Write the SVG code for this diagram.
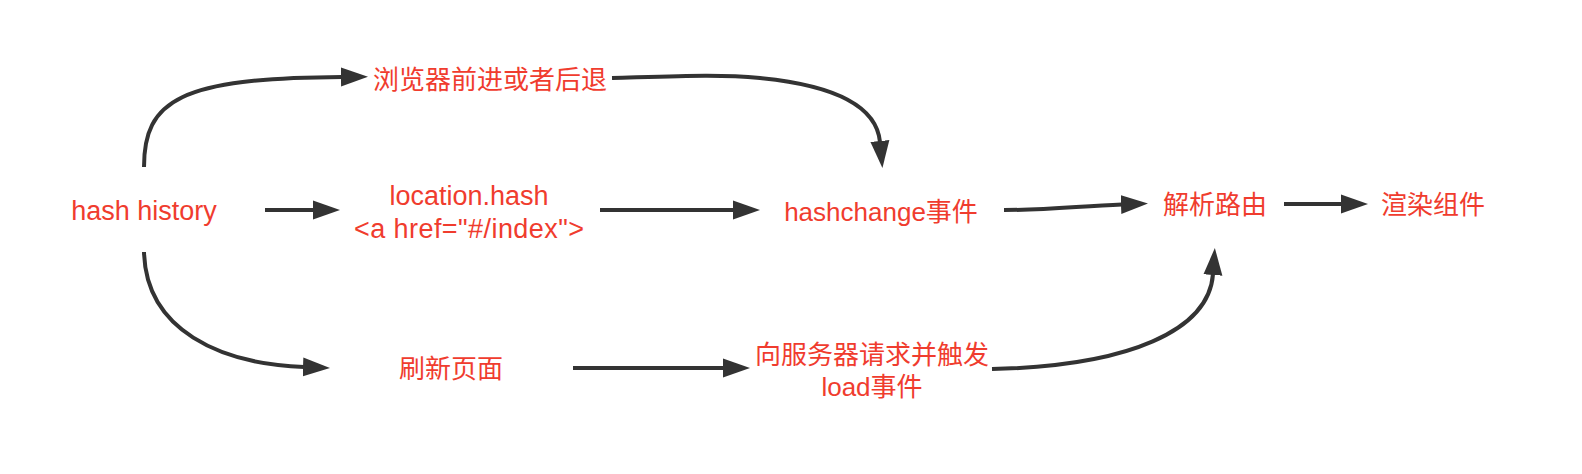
<svg xmlns="http://www.w3.org/2000/svg" width="1582" height="474" viewBox="0 0 1582 474">
  <style>
    .lbl { font-family: "Liberation Sans", "Noto Sans CJK SC", sans-serif; font-size: 26px; fill: #F03C2E; text-anchor: middle; }
    .lat { font-size: 27px; }
    .edge { fill: none; stroke: #333333; stroke-width: 4; marker-end: url(#arrow); }
  </style>
  <defs>
    <marker id="arrow" markerUnits="userSpaceOnUse" markerWidth="30" markerHeight="22" refX="1" refY="10" orient="auto">
      <path d="M0,0.5 L27,10 L0,19.5 Z" fill="#333333"/>
    </marker>
  </defs>
  <rect width="1582" height="474" fill="#FFFFFF"/>

  <g id="connectors">
    <path class="edge" d="M265,210 H314"/>
    <path class="edge" d="M600,210 H734"/>
    <path class="edge" d="M1004,210 C1050,210 1080,206 1122,204.5"/>
    <path class="edge" d="M1284,204 H1342"/>
    <path class="edge" d="M573,368 H724"/>
    <path class="edge" d="M144,167 C144,100 180,78 342,77"/>
    <path class="edge" d="M612,78 C680,76 720,74 760,78 C842,86 877,110 880,142"/>
    <path class="edge" d="M144,252 C146,330 220,364 304,367"/>
    <path class="edge" d="M992,369 C1130,366 1209,330 1213,274"/>
  </g>

  <g id="node-hash-history">
    <text class="lbl lat" x="144" y="220">hash history</text>
  </g>
  <g id="node-browser-nav">
    <text class="lbl" x="490" y="89">浏览器前进或者后退</text>
  </g>
  <g id="node-location-hash">
    <text class="lbl lat" x="469" y="205">location.hash</text>
    <text class="lbl lat" x="469" y="238" textLength="230" lengthAdjust="spacing">&lt;a href="#/index"&gt;</text>
  </g>
  <g id="node-hashchange">
    <text class="lbl" x="881" y="221">hashchange事件</text>
  </g>
  <g id="node-parse-route">
    <text class="lbl" x="1215" y="214">解析路由</text>
  </g>
  <g id="node-render">
    <text class="lbl" x="1433" y="214">渲染组件</text>
  </g>
  <g id="node-refresh">
    <text class="lbl" x="451" y="378">刷新页面</text>
  </g>
  <g id="node-server-load">
    <text class="lbl" x="872" y="364">向服务器请求并触发</text>
    <text class="lbl" x="872" y="396">load事件</text>
  </g>
</svg>
